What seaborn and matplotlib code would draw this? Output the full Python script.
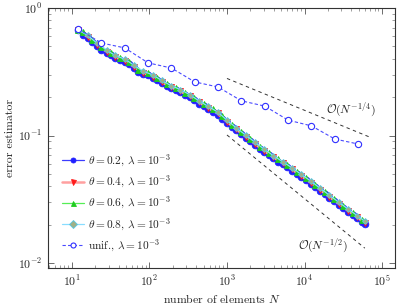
import matplotlib
matplotlib.use("Agg")
import matplotlib.pyplot as plt
import seaborn as sns
import pandas as pd

# theta = 0.2
n_02 = [12, 14, 16, 18, 21, 24, 28, 32, 36, 42, 48, 55, 63, 72, 83, 95, 110, 126,
        144, 166, 190, 219, 251, 288, 331, 380, 436, 501, 575, 660, 758, 871, 1003,
        1151, 1318, 1513, 1737, 1995, 2290, 2629, 3019, 3467, 3980, 4570, 5247, 6025,
        6918, 7943, 9120, 10471, 12023, 13804, 15849, 18198, 20894, 23990, 27545,
        31627, 36314, 41695, 47874, 54968, 60400]
err_02 = [0.673, 0.618, 0.578, 0.542, 0.506, 0.471, 0.445, 0.424, 0.404, 0.389, 0.377,
          0.363, 0.339, 0.315, 0.304, 0.296, 0.284, 0.270, 0.257, 0.243, 0.234, 0.226,
          0.218, 0.209, 0.199, 0.189, 0.178, 0.170, 0.161, 0.154, 0.146, 0.135, 0.125,
          0.117, 0.110, 0.103, 0.0962, 0.0902, 0.0844, 0.0787, 0.0743, 0.0701, 0.0662,
          0.0625, 0.0593, 0.0562, 0.0531, 0.0501, 0.0471, 0.0445, 0.0418, 0.0392,
          0.0368, 0.0346, 0.0324, 0.0305, 0.0286, 0.0269, 0.0253, 0.0238, 0.0224,
          0.0211, 0.0202]

# theta = 0.4
n_04 = [12, 16, 21, 28, 36, 48, 63, 83, 110, 144, 190, 251, 331, 436, 575, 758, 1000,
        1318, 1737, 2290, 3019, 3980, 5247, 6918, 9120, 12023, 15849, 20894, 27545,
        36314, 47874, 60400]
err_04 = [0.673, 0.590, 0.516, 0.454, 0.412, 0.385, 0.346, 0.310, 0.290, 0.262, 0.239,
          0.222, 0.203, 0.182, 0.164, 0.149, 0.128, 0.112, 0.0982, 0.0861, 0.0758,
          0.0675, 0.0605, 0.0542, 0.0481, 0.0427, 0.0376, 0.0331, 0.0292, 0.0258,
          0.0229, 0.0206]

# theta = 0.6
n_06 = [12, 14, 18, 24, 32, 42, 55, 72, 95, 126, 166, 219, 288, 380, 501, 660, 871,
        1148, 1513, 1995, 2629, 3467, 4570, 6025, 7943, 10471, 13804, 18198, 23990,
        31627, 41695, 54968]
err_06 = [0.673, 0.644, 0.564, 0.491, 0.442, 0.405, 0.377, 0.327, 0.308, 0.281, 0.253,
          0.236, 0.217, 0.197, 0.176, 0.160, 0.141, 0.121, 0.107, 0.0938, 0.0819,
          0.0729, 0.0651, 0.0584, 0.0521, 0.0463, 0.0408, 0.0360, 0.0317, 0.0279,
          0.0248, 0.0219]

# theta = 0.8
n_08 = [12, 16, 21, 28, 36, 48, 63, 83, 110, 144, 190, 251, 331, 436, 575, 758, 1000,
        1318, 1737, 2290, 3019, 3980, 5247, 6918, 9120, 12023, 15849, 20894, 27545,
        36314, 47874, 60400]
err_08 = [0.675, 0.608, 0.531, 0.468, 0.424, 0.397, 0.356, 0.319, 0.299, 0.270, 0.246,
          0.229, 0.209, 0.187, 0.169, 0.153, 0.132, 0.115, 0.101, 0.0887, 0.0781,
          0.0695, 0.0623, 0.0558, 0.0495, 0.0440, 0.0387, 0.0341, 0.0301, 0.0266,
          0.0236, 0.0212]

# uniform refinement
n_unif = [12, 24, 48, 96, 192, 384, 768, 1536, 3072, 6144, 12288, 24576, 49152]
err_unif = [0.684, 0.531, 0.486, 0.371, 0.338, 0.263, 0.240, 0.187, 0.170, 0.132,
            0.119, 0.0939, 0.0858]

# reference slopes
ref14_n = [1000, 70000]
ref14_err = [0.28, 0.097]
ref12_n = [1000, 60000]
ref12_err = [0.101, 0.0131]

sns.set_style("ticks")
plt.rcParams.update({
    "font.family": "serif",
    "font.serif": ["cmr10", "DejaVu Serif"],
    "mathtext.fontset": "cm",
    "axes.formatter.use_mathtext": True,
    "axes.unicode_minus": False,
    "xtick.direction": "in",
    "ytick.direction": "in",
    "xtick.top": True,
    "ytick.right": True,
})

fig = plt.figure(figsize=(3.99, 3.04), dpi=100)
ax = fig.add_axes([0.120, 0.118, 0.870, 0.856])

series = [
    (n_02, err_02, r"$\theta = 0.2$, $\lambda = 10^{-3}$", "#3c3cff", "o", "#2020ff", "#2020ff", 4.8, 0.9),
    (n_04, err_04, r"$\theta = 0.4$, $\lambda = 10^{-3}$", "#ffa0a0", "v", "#ff1a1a", "#ff1a1a", 4.8, 1.8),
    (n_06, err_06, r"$\theta = 0.6$, $\lambda = 10^{-3}$", "#55ee55", "^", "#1fcc1f", "#1fcc1f", 4.6, 0.9),
    (n_08, err_08, r"$\theta = 0.8$, $\lambda = 10^{-3}$", "#88ddff", "D", "#a0b088", "#55c8e8", 3.0, 0.9),
]
for n, err, label, lc, mk, mfc, mec, ms, lw in series:
    df = pd.DataFrame({"N": n, "err": err})
    sns.lineplot(data=df, x="N", y="err", ax=ax, color=lc, marker=mk, markersize=ms,
                 markerfacecolor=mfc, markeredgecolor=mec, markeredgewidth=0.6,
                 linewidth=lw, estimator=None, label=label)

df_u = pd.DataFrame({"N": n_unif, "err": err_unif})
sns.lineplot(data=df_u, x="N", y="err", ax=ax, color="#4a4aff", marker="o", markersize=4.5,
             markerfacecolor="white", markeredgecolor="#3030ff", markeredgewidth=0.8,
             linewidth=0.8, linestyle=(0, (3, 2)), estimator=None,
             label=r"unif., $\lambda = 10^{-3}$")

for n, err in [(ref14_n, ref14_err), (ref12_n, ref12_err)]:
    ax.plot(n, err, color="#333333", linewidth=0.7, linestyle=(0, (3.5, 3.5)))

ax.text(4.0e4, 0.158, r"$\mathcal{O}(N^{-1/4})$", fontsize=8.5, ha="center", va="center")
ax.text(1.75e4, 0.0136, r"$\mathcal{O}(N^{-1/2})$", fontsize=8.5, ha="center", va="center")

ax.set_xscale("log")
ax.set_yscale("log")
ax.set_xlim(4.9, 1.47e5)
ax.set_ylim(0.00914, 1.0)
ax.set_xlabel(r"number of elements $N$", fontsize=8.5, labelpad=2)
ax.set_ylabel("error estimator", fontsize=8.5, labelpad=2)
ax.tick_params(which="major", length=4, width=0.6, labelsize=8.5, pad=4, color="#555555")
ax.tick_params(which="minor", length=2, width=0.5, color="#777777")
for s in ax.spines.values():
    s.set_linewidth(0.8)
    s.set_color("#333333")

leg = ax.legend(loc="lower left", bbox_to_anchor=(0.015, 0.02), frameon=False,
                fontsize=8.2, handlelength=1.9, handletextpad=0.4, labelspacing=0.45,
                borderpad=0.3)
for h in leg.legend_handles:
    h.set_markersize(3.6)

fig.savefig("out.png", dpi=100)
